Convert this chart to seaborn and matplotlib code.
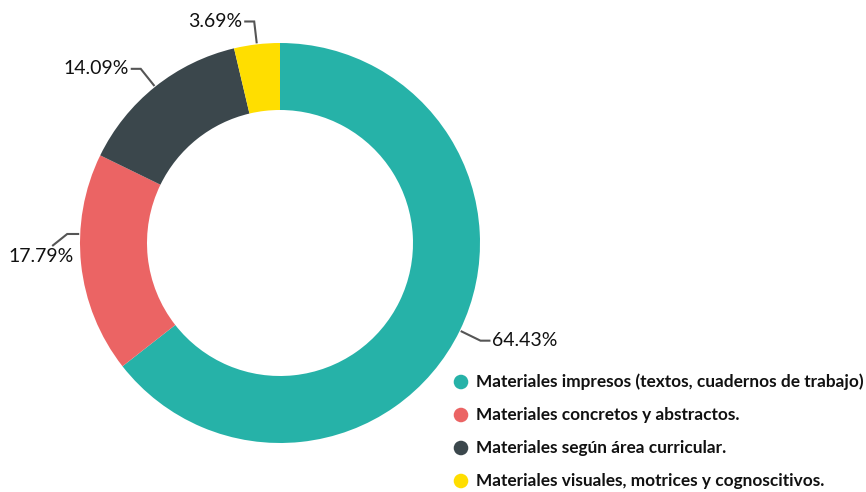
import numpy as np
import matplotlib
matplotlib.use("Agg")
import matplotlib.pyplot as plt
import seaborn as sns

# data
categories = [
    "Materiales impresos (textos, cuadernos de trabajo)",
    "Materiales concretos y abstractos.",
    "Materiales según área curricular.",
    "Materiales visuales, motrices y cognoscitivos.",
]
percentages = [64.43, 17.79, 14.09, 3.69]
colors = ["#26B2A8", "#EB6464", "#3B474C", "#FFDE00"]

# label placement tweaks (degrees clockwise off mid-angle, leader style)
angle_nudge = [0, 8.6, 0, 0]
leader_style = ["elbow", "below", "elbow", "elbow"]

sns.set_theme(style="white")
plt.rcParams["font.family"] = ["Lato", "DejaVu Sans"]

W, H = 866, 492
fig = plt.figure(figsize=(W / 100, H / 100), dpi=100)
ax = fig.add_axes([0, 0, 1, 1])

cx, cy, R = 280, H - 243, 200
wedges, _ = ax.pie(percentages, colors=colors, startangle=90, counterclock=False,
                   center=(cx, cy), radius=R,
                   wedgeprops=dict(width=R * 0.335, linewidth=0))
ax.set_xlim(0, W)
ax.set_ylim(0, H)
ax.set_aspect("equal")
ax.axis("off")

# leader lines + percentage labels
lc = "#555555"
for w, p, nud, sty in zip(wedges, percentages, angle_nudge, leader_style):
    ang = np.deg2rad((w.theta1 + w.theta2) / 2 - nud)
    ux, uy = np.cos(ang), np.sin(ang)
    x0, y0 = cx + (R + 1) * ux, cy + (R + 1) * uy
    txt = f"{p:.2f}%"
    if sty == "below":
        x1, y1 = x0 - 12, y0
        x2, y2 = x1 - 15, y1 - 12
        ax.plot([x0, x1, x2], [y0, y1, y2], color=lc, lw=1.5,
                solid_capstyle="butt", solid_joinstyle="miter")
        ax.text(x2 - 11, y2 - 2, txt, fontsize=14, color="#111111",
                ha="center", va="top")
        continue
    x1, y1 = cx + (R + 23) * ux, cy + (R + 23) * uy
    side = 1 if ux > 0 else -1
    x2 = x1 + 10 * side
    ax.plot([x0, x1, x2], [y0, y1, y1], color=lc, lw=1.5,
            solid_capstyle="butt", solid_joinstyle="miter")
    ax.text(x2 + 2 * side, y1, txt, fontsize=14, color="#111111",
            ha="left" if side > 0 else "right", va="center")

# legend
lx, ly, step = 461, H - 382, 33
for i, (lab, col) in enumerate(zip(categories, colors)):
    y = ly - i * step
    ax.scatter([lx], [y], s=110, color=col, edgecolors="none")
    ax.text(lx + 15, y, lab, fontsize=12.4, fontweight="bold", color="#111111",
            ha="left", va="center")

fig.savefig("out.png", dpi=100)
